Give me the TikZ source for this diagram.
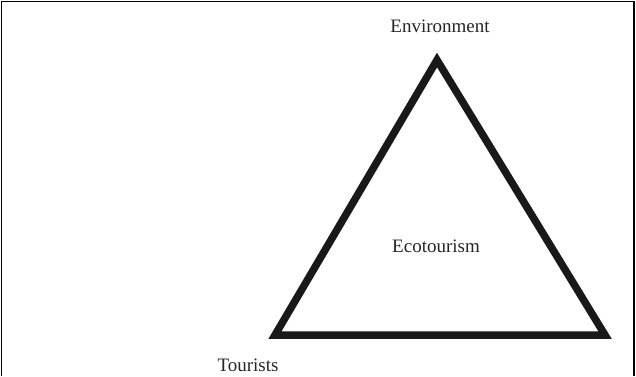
\documentclass[tikz,border=0pt]{standalone}
\usepackage{fontspec}
\setmainfont{Liberation Serif}
\begin{document}
\begin{tikzpicture}[x=1pt,y=-1pt,
  lbl/.style={inner sep=0pt,anchor=base,font=\fontsize{19}{21}\selectfont,text=black!85},
  tri/.style={line width=7.5pt,line join=miter,draw=black!90}]
\useasboundingbox (0,0) rectangle (636,376);
\draw[line width=1.5pt] (1.5,376) -- (1.5,1.5) -- (634,1.5) -- (634,376);
\coordinate (A) at (437,60);
\coordinate (B) at (275,335);
\coordinate (C) at (605,335);
\draw[tri] (A) -- (B) -- (C) -- cycle;
\node[lbl] (env) at (440,32) {Environment};
\node[lbl] (eco) at (436,252) {Ecotourism};
\node[lbl] (tou) at (248,371) {Tourists};
\end{tikzpicture}
\end{document}
